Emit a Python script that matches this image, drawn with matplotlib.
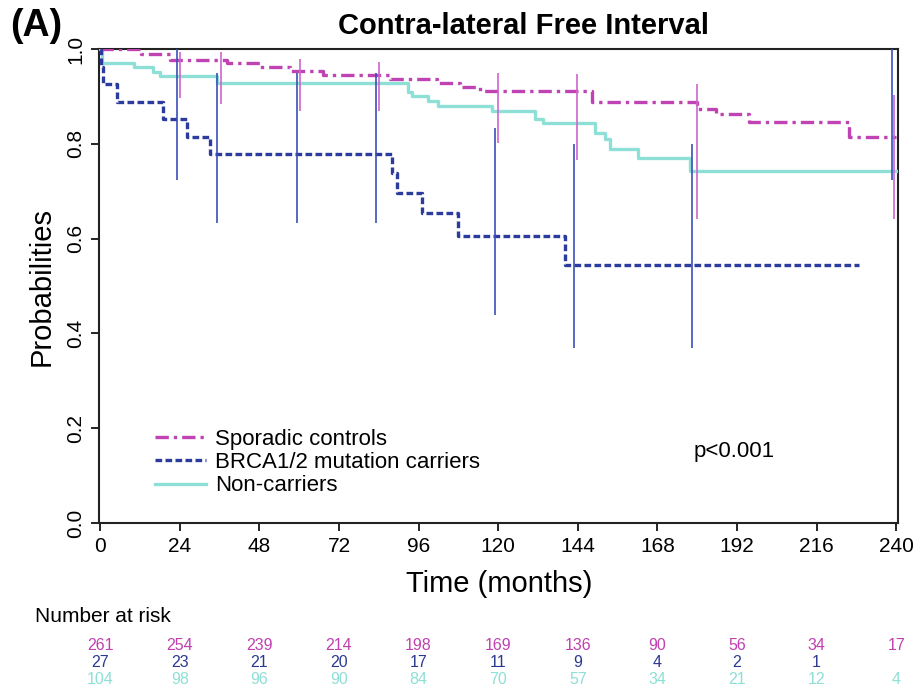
import matplotlib
matplotlib.use("Agg")
import matplotlib.pyplot as plt
import matplotlib.transforms as mtransforms
from matplotlib.lines import Line2D

plt.rcParams['font.family'] = ['Liberation Sans', 'DejaVu Sans']

# ---------------- data ----------------
sporadic_t = [0, 12.2, 21.2, 38.4, 48.3, 57.3, 67.2, 87.4, 101.5, 108.5, 114.5, 148.2, 179.8, 185.8, 195.7, 225.8, 240]
sporadic_s = [1.0, 0.990, 0.977, 0.970, 0.963, 0.953, 0.945, 0.936, 0.928, 0.920, 0.911, 0.889, 0.873, 0.863, 0.847, 0.815, 0.815]

brca_t = [0, 0.3, 0.8, 5.0, 19.1, 26.3, 33.2, 88.0, 89.5, 97.0, 107.8, 140.0, 228.8]
brca_s = [1.0, 0.963, 0.926, 0.889, 0.852, 0.815, 0.778, 0.739, 0.697, 0.653, 0.605, 0.545, 0.545]

noncar_t = [0, 0.7, 10.1, 15.8, 18.2, 35.3, 92.8, 94.0, 98.8, 101.8, 118.1, 131.0, 133.4, 149.1, 152.1, 153.6, 162.0, 177.9, 240]
noncar_s = [1.0, 0.970, 0.961, 0.952, 0.942, 0.928, 0.910, 0.900, 0.890, 0.880, 0.869, 0.852, 0.843, 0.823, 0.811, 0.789, 0.771, 0.743, 0.743]

sporadic_ci_t = [24.2, 36.3, 60.3, 84.1, 119.9, 143.9, 179.8, 239.3]
sporadic_ci_lo = [0.896, 0.885, 0.869, 0.869, 0.801, 0.766, 0.641, 0.641]
sporadic_ci_hi = [0.993, 0.993, 0.978, 0.973, 0.950, 0.948, 0.926, 0.903]

brca_ci_t = [23.3, 35.3, 59.4, 83.2, 119.0, 142.7, 178.5, 238.7]
brca_ci_lo = [0.724, 0.633, 0.633, 0.633, 0.439, 0.370, 0.370, 0.724]
brca_ci_hi = [1.0, 0.950, 0.950, 0.950, 0.833, 0.799, 0.799, 1.0]

risk_times = [0, 24, 48, 72, 96, 120, 144, 168, 192, 216, 240]
sporadic_risk = ["261", "254", "239", "214", "198", "169", "136", "90", "56", "34", "17"]
brca_risk = ["27", "23", "21", "20", "17", "11", "9", "4", "2", "1", ""]
noncar_risk = ["104", "98", "96", "90", "84", "70", "57", "34", "21", "12", "4"]

labels = ["Sporadic controls", "BRCA1/2 mutation carriers", "Non-carriers"]
xticks = [0, 24, 48, 72, 96, 120, 144, 168, 192, 216, 240]
yticks = [0.0, 0.2, 0.4, 0.6, 0.8, 1.0]

# ---------------- style ----------------
c_mag = "#C043B3"
c_mag_ci = "#CC66CC"
c_blue = "#2B3B9E"
c_blue_ci = "#3A4FBA"
c_teal = "#8EDFD6"
c_mag_txt = "#C040B0"
c_blue_txt = "#2B3990"
c_teal_txt = "#8EDFD6"

fig = plt.figure(figsize=(9.14, 6.91), dpi=100)
ax = fig.add_axes([0.1088, 0.2431, 0.8740, 0.6860])

ax.step(noncar_t, noncar_s, where='post', color=c_teal, lw=2.4, label=labels[2], zorder=3)
ax.step(sporadic_t, sporadic_s, where='post', color=c_mag, lw=2.4,
        linestyle=(0, (4, 1.5, 1, 1.5)), label=labels[0], zorder=4)
ax.step(brca_t, brca_s, where='post', color=c_blue, lw=2.4,
        linestyle=(0, (2, 1)), label=labels[1], zorder=4)

ax.vlines(sporadic_ci_t, sporadic_ci_lo, sporadic_ci_hi, color=c_mag_ci, lw=1.2, zorder=5)
ax.vlines(brca_ci_t, brca_ci_lo, brca_ci_hi, color=c_blue_ci, lw=1.2, zorder=5)

ax.set_xlim(-0.2, 240.6)
ax.set_ylim(0, 1.0)
ax.set_xticks(xticks)
ax.set_xticklabels([str(v) for v in xticks])
ax.set_yticks(yticks)
ax.set_yticklabels([f"{v:.1f}" for v in yticks], rotation=90, va='center')
ax.tick_params(axis='both', direction='out', length=6, width=1.2, labelsize=15, pad=4)
for s in ax.spines.values():
    s.set_linewidth(1.5)
    s.set_color("#222222")

ax.set_xlabel("Time (months)", fontsize=21, labelpad=10)
ax.set_ylabel("Probabilities", fontsize=21, labelpad=8)

handles = [
    Line2D([], [], color=c_mag, lw=2.4, linestyle=(0, (4, 1.5, 1, 1.5))),
    Line2D([], [], color=c_blue, lw=2.4, linestyle=(0, (2, 1))),
    Line2D([], [], color=c_teal, lw=2.4),
]
ax.legend(handles, labels, loc='upper left', bbox_to_anchor=(0.056, 0.222),
          frameon=False, fontsize=16, handlelength=2.3, handletextpad=0.4,
          labelspacing=0.1, borderpad=0)

ax.text(191, 0.15, "p<0.001", fontsize=16, ha='center', va='center')

fig.text(0.5725, 0.962, "Contra-lateral Free Interval", fontsize=21, fontweight='bold',
         ha='center', va='center')
fig.text(0.011, 0.962, "(A)", fontsize=27, fontweight='bold', ha='left', va='center')

fig.text(0.038, 1 - 617 / 691, "Number at risk", fontsize=15, ha='left', va='center')
tr = mtransforms.blended_transform_factory(ax.transData, fig.transFigure)
rows = [(sporadic_risk, c_mag_txt, 645.5), (brca_risk, c_blue_txt, 662.5), (noncar_risk, c_teal_txt, 679.5)]
for vals, col, ypx in rows:
    for t, v in zip(risk_times, vals):
        if v:
            ax.text(t, 1 - ypx / 691, v, transform=tr, fontsize=11.5, color=col,
                    ha='center', va='center', clip_on=False)

fig.savefig("out.png", dpi=100)
